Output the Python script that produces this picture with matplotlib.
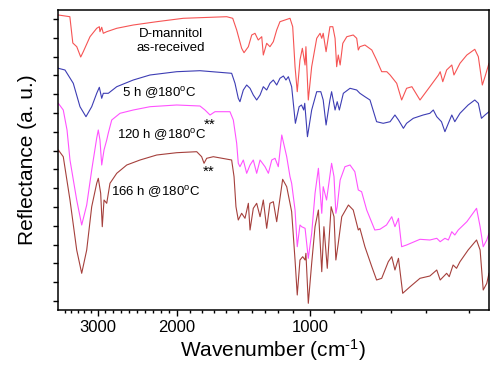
"""FTIR reflectance of D-mannitol after annealing at 180 C -> out.png"""
import numpy as np
import matplotlib
matplotlib.use("Agg")
import matplotlib.pyplot as plt
from matplotlib.ticker import FixedLocator, NullFormatter

plt.rcParams["font.family"] = ["Liberation Sans", "DejaVu Sans"]
plt.rcParams["mathtext.fontset"] = "custom"
plt.rcParams["mathtext.rm"] = "Liberation Sans"
plt.rcParams["mathtext.it"] = "Liberation Sans:italic"

# wavenumber (cm-1) / reflectance (a.u., stacked)
RED_WN = [3595, 3420, 3375, 3315, 3255, 3216, 3114, 3012, 2977, 2969, 2947, 2927,
          2884, 2758, 2550, 2255, 1952, 1594, 1544, 1511, 1474, 1457, 1426, 1402,
          1377, 1352, 1325, 1313, 1287, 1262, 1236, 1210, 1187, 1120, 1102, 1088,
          1075, 1059, 1045, 1029, 1024, 1010, 993, 972, 958, 951, 945, 933, 917,
          905, 896, 890, 884, 877, 867, 852, 828, 815, 809, 803, 786, 763, 747,
          730, 713, 702, 683, 669, 655, 640, 617, 591, 571, 567, 561, 552, 540,
          535, 521, 505, 487, 479, 470, 464, 455]
RED_R = [295, 293.3, 267, 263.3, 253, 258.3, 273.3, 281.7, 283.3, 278.3, 282.7,
         276.7, 278.3, 281.7, 285, 288.3, 291.7, 293.3, 291.7, 280, 261.7, 257.3,
         263.3, 275, 276.7, 270, 273.3, 255, 266.7, 263.3, 268.3, 280, 288.3,
         291.7, 283.3, 243.3, 218.3, 250, 261.7, 245, 263.3, 210, 243.3, 271.7,
         276.7, 271.7, 276.7, 258.3, 283.3, 283.3, 271.7, 243.3, 255, 245, 266.7,
         273.3, 275, 271.7, 260, 263.3, 265, 260, 250, 238.3, 238.3, 235, 226.7,
         210, 221.7, 223.3, 210, 223.3, 235, 238.3, 228.3, 240, 245, 235, 246.7,
         255, 260.7, 253.3, 225, 233.3, 246.7]

BLUE_WN = [3595, 3494, 3368, 3266, 3175, 3088, 3012, 2977, 2947, 2927, 2864, 2758,
           2550, 2340, 2004, 1817, 1553, 1525, 1498, 1486, 1462, 1438, 1414, 1390,
           1364, 1338, 1313, 1287, 1262, 1236, 1210, 1187, 1164, 1147, 1131, 1109,
           1086, 1064, 1050, 1037, 1031, 1015, 993, 972, 955, 945, 933, 917, 910,
           896, 888, 880, 865, 840, 815, 803, 786, 769, 747, 725, 702, 688, 678,
           664, 655, 636, 608, 591, 583, 575, 564, 556, 548, 540, 533, 521, 502,
           487, 479, 472, 464, 455]
BLUE_R = [241.7, 240, 226.7, 203.3, 193.3, 203.3, 216.7, 222.7, 211.7, 216.7,
          216.7, 223.3, 230, 235, 238.3, 239.3, 236.7, 226.7, 211.7, 208.3, 220,
          225, 221.7, 215, 210, 215, 223.3, 220, 226.7, 230, 225, 231.7, 234, 230,
          233.3, 223.3, 186.7, 203.3, 205, 200, 206.7, 173.3, 200, 218.3, 218.3,
          210, 185, 210, 218.3, 200, 208.3, 200, 216.7, 221.7, 220, 216.7, 213.3,
          210, 188.3, 186.7, 188.3, 195, 190, 181.7, 186.7, 191.7, 195, 196.7, 200,
          193.3, 188.3, 178.3, 186.7, 195, 188.3, 196.7, 205, 210, 206.7, 191.7,
          195, 198.3]

MAG_WN = [3595, 3520, 3463, 3418, 3316, 3240, 3164, 3088, 3012, 2990, 2969, 2947,
          2918, 2884, 2864, 2821, 2717, 2550, 2340, 2004, 1817, 1775, 1733, 1692,
          1567, 1539, 1511, 1498, 1486, 1462, 1438, 1414, 1390, 1364, 1338, 1300,
          1274, 1248, 1223, 1198, 1175, 1142, 1120, 1109, 1088, 1075, 1059, 1049,
          1029, 1010, 993, 979, 965, 951, 945, 931, 910, 900, 893, 888, 877, 859,
          840, 822, 809, 797, 780, 753, 736, 714, 697, 688, 678, 669, 655, 617,
          591, 575, 567, 556, 548, 540, 533, 525, 505, 483, 475, 468, 460, 455]
MAG_R = [206.7, 200, 180, 150, 110, 85, 105, 140, 172, 180, 170, 145, 160, 170,
         177, 190, 196.7, 200, 203.3, 205, 204, 200, 195, 198.3, 198.3, 190,
         166.7, 146.7, 143.3, 150, 136.7, 145, 150, 136.7, 150, 143.3, 136.7, 150,
         151.7, 143.3, 175, 153.3, 133.3, 126.7, 100, 63.3, 85, 83.3, 81.7, 51.7,
         76.7, 116.7, 141.7, 96.7, 123.3, 110, 146.7, 133.3, 96.7, 103.3, 130,
         143.3, 145, 138.3, 120, 118.3, 100, 80, 80.7, 85, 93.3, 83.3, 91.7, 63.3,
         65, 70.7, 70, 71.7, 68.3, 71.7, 70, 78.3, 75, 80, 88.3, 101.7, 83.3,
         63.3, 70, 76.7]

BRN_WN = [3595, 3520, 3418, 3316, 3240, 3164, 3088, 3012, 2990, 2960, 2940, 2918,
          2884, 2843, 2758, 2632, 2465, 2255, 2004, 1844, 1803, 1783, 1761, 1706,
          1553, 1533, 1517, 1498, 1474, 1450, 1426, 1414, 1390, 1364, 1338, 1313,
          1287, 1262, 1236, 1210, 1169, 1142, 1120, 1109, 1088, 1075, 1059, 1043,
          1029, 1024, 1010, 993, 979, 965, 951, 942, 928, 912, 900, 893, 884, 871,
          846, 828, 809, 803, 786, 763, 747, 730, 708, 697, 688, 678, 666, 645,
          617, 591, 575, 567, 552, 546, 537, 529, 521, 502, 483, 475, 468, 460,
          455]
BRN_R = [160, 153.3, 110, 60, 36.7, 60, 103.3, 126.7, 131.7, 116.7, 83.3, 110,
         106.7, 126.7, 136.7, 145, 150, 155, 157.3, 158.3, 153.3, 146.7, 151.7,
         153.3, 150, 133.3, 103.3, 90, 96.7, 91.7, 106.7, 80, 101.7, 106.7, 93.3,
         110, 81.7, 106.7, 108.3, 88.3, 130.7, 123.3, 106.7, 98.3, 50, 15, 50,
         53.3, 50, 56.7, 6.7, 46.7, 83.3, 100, 38.3, 83.3, 41.7, 103.3, 93.3, 50,
         66.7, 93.3, 105, 100, 80, 81.7, 63.3, 43.3, 30, 31.7, 48.3, 53.3, 40,
         51.7, 16.7, 23.3, 31.7, 34, 40, 30, 36.7, 33.3, 45, 41.7, 48.3, 60, 70,
         60, 20, 26.7, 36.7]

SERIES = [
    (RED_WN, RED_R, "#f65454"),
    (BLUE_WN, BLUE_R, "#3d3db4"),
    (MAG_WN, MAG_R, "#ff52ff"),
    (BRN_WN, BRN_R, "#a5403c"),
]

# the instrument axis is not linear in wavenumber: tick wavenumber -> pixel
AXIS_WN = [3600, 3000, 2000, 1900, 1800, 1700, 1600, 1500, 1400, 1300, 1200,
           1100, 1000, 900, 800, 700, 600, 500, 455]
AXIS_PX = [58, 97.5, 177, 190, 202, 214, 226, 238, 252, 265, 278, 293, 310,
           334, 360.7, 390.7, 426, 469, 489]


def make_scale():
    wn = np.array(AXIS_WN[::-1], float)
    pos = 489.0 - np.array(AXIS_PX[::-1], float)
    # linear extension past both ends so the transform stays invertible
    lo = pos[0] - (pos[1] - pos[0]) / (wn[1] - wn[0]) * (wn[0] - 0.0)
    hi = pos[-1] + (pos[-1] - pos[-2]) / (wn[-1] - wn[-2]) * (20000 - wn[-1])
    wn = np.r_[0.0, wn, 20000.0]
    pos = np.r_[lo, pos, hi]

    def fwd(x):
        return np.interp(x, wn, pos)

    def inv(p):
        return np.interp(p, pos, wn)
    return fwd, inv


def main():
    fig = plt.figure(figsize=(5.04, 3.71), dpi=100)
    ax = fig.add_axes([58 / 504, 61 / 371, 431 / 504, 300 / 371])

    ax.set_xscale("function", functions=make_scale())
    for wn, r, c in SERIES:
        ax.plot(wn, r, color=c, lw=0.8)
    ax.set_xlim(3600, 455)
    ax.set_ylim(0, 300)

    ax.xaxis.set_major_locator(FixedLocator([3000, 2000, 1000]))
    ax.set_xticklabels(["3000", "2000", "1000"])
    minors = (list(range(3500, 3000, -100)) + list(range(2900, 2000, -100))
              + list(range(1900, 1000, -100)) + list(range(900, 450, -100)))
    ax.xaxis.set_minor_locator(FixedLocator(minors))
    ax.xaxis.set_minor_formatter(NullFormatter())
    ax.yaxis.set_major_locator(FixedLocator(9 + 18.8 * np.arange(16)))
    ax.set_yticklabels([])

    ax.tick_params(axis="x", which="major", direction="out", length=4.5,
                   width=1, labelsize=12, pad=3)
    ax.tick_params(axis="x", which="minor", direction="out", length=2.5, width=1)
    ax.tick_params(axis="y", direction="out", length=3.8, width=1)
    for s in ax.spines.values():
        s.set_linewidth(1.1)

    ax.set_xlabel("Wavenumber (cm$^{\\text{-1}}$)", fontsize=15, labelpad=1)
    ax.set_ylabel("Reflectance (a. u.)", fontsize=15, labelpad=8)

    txt = dict(fontsize=9.5, ha="center", va="center", color="black")
    ax.text(2075, 269, "D-mannitol\nas-received", linespacing=1.3, **txt)
    ax.text(2226, 216.7, "5 h @180$^{\\mathrm{o}}$C", **txt)
    ax.text(2192, 175, "120 h @180$^{\\mathrm{o}}$C", **txt)
    ax.text(2273, 118.3, "166 h @180$^{\\mathrm{o}}$C", **txt)
    ax.text(1739, 185, "**", fontsize=11, ha="center", va="center")
    ax.text(1747, 138, "**", fontsize=11, ha="center", va="center")

    fig.savefig("out.png", dpi=100)


if __name__ == "__main__":
    main()
